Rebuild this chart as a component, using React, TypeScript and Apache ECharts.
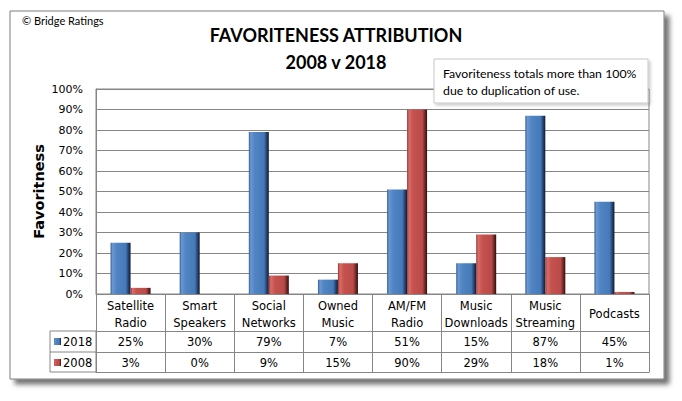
import React, { useEffect, useRef } from 'react';
import * as echarts from 'echarts';

const categories = [
  'Satellite\nRadio',
  'Smart\nSpeakers',
  'Social\nNetworks',
  'Owned\nMusic',
  'AM/FM\nRadio',
  'Music\nDownloads',
  'Music\nStreaming',
  'Podcasts',
];
const values2018 = [25, 30, 79, 7, 51, 15, 87, 45];
const values2008 = [3, 0, 9, 15, 90, 29, 18, 1];
const seriesNames = ['2018', '2008'];
const yMin = 0;
const yMax = 100;
const yInterval = 10;

const TABLE_FONT = 'DejaVu Sans';
const LINE = '#868686';

const blueGrad = () =>
  new echarts.graphic.LinearGradient(0, 0, 1, 0, [
    { offset: 0, color: '#345e94' },
    { offset: 0.1, color: '#6b98d2' },
    { offset: 0.3, color: '#5084c2' },
    { offset: 0.76, color: '#4679b8' },
    { offset: 0.88, color: '#284776' },
    { offset: 1, color: '#0e1b2e' },
  ]);
const redGrad = () =>
  new echarts.graphic.LinearGradient(0, 0, 1, 0, [
    { offset: 0, color: '#963633' },
    { offset: 0.1, color: '#d96c68' },
    { offset: 0.3, color: '#c4524f' },
    { offset: 0.76, color: '#b94b48' },
    { offset: 0.88, color: '#7a2c2a' },
    { offset: 1, color: '#2c0e0d' },
  ]);

export default function App() {
  const ref = useRef<HTMLDivElement>(null);
  useEffect(() => {
    if (!ref.current) return;
    const chart = echarts.init(ref.current, undefined, { renderer: 'svg' });
    const fmt = (v: number) => `${v}%`;
    const option: any = {
      animation: false,
      backgroundColor: '#ffffff',
      grid: {
        left: 96,
        right: 33,
        top: 89,
        bottom: 107,
        show: true,
        borderColor: LINE,
        borderWidth: 1,
        containLabel: false,
      },
      xAxis: [
        {
          type: 'category',
          data: categories,
          position: 'bottom',
          axisLine: { show: true, lineStyle: { color: LINE } },
          axisTick: { show: true, length: 78, interval: 0, alignWithLabel: false, lineStyle: { color: LINE } },
          axisLabel: {
            interval: 0,
            margin: 3,
            fontFamily: TABLE_FONT,
            fontSize: 11.5,
            lineHeight: 17,
            color: '#000',
            formatter: (v: string) => (v.indexOf('\n') < 0 ? `{p|${v}}` : v),
            rich: { p: { fontFamily: TABLE_FONT, fontSize: 11.5, lineHeight: 34, color: '#000' } },
          },
        },
        {
          type: 'category',
          data: values2018.map(fmt),
          position: 'bottom',
          offset: 37,
          axisLine: { show: true, lineStyle: { color: LINE } },
          axisTick: { show: false },
          axisLabel: { interval: 0, margin: 5, fontFamily: TABLE_FONT, fontSize: 11.5, color: '#000' },
        },
        {
          type: 'category',
          data: values2008.map(fmt),
          position: 'bottom',
          offset: 58,
          axisLine: { show: true, lineStyle: { color: LINE } },
          axisTick: { show: false },
          axisLabel: { interval: 0, margin: 5, fontFamily: TABLE_FONT, fontSize: 11.5, color: '#000' },
        },
        {
          type: 'category',
          data: categories,
          position: 'bottom',
          offset: 78,
          axisLine: { show: true, lineStyle: { color: LINE } },
          axisTick: { show: false },
          axisLabel: { show: false },
        },
      ],
      yAxis: {
        type: 'value',
        min: yMin,
        max: yMax,
        interval: yInterval,
        name: 'Favoritness',
        nameLocation: 'middle',
        nameRotate: 90,
        nameGap: 50,
        nameMoveOverlap: false,
        nameTextStyle: { fontFamily: TABLE_FONT, fontWeight: 'bold', fontSize: 14.5, color: '#000' },
        axisLine: { show: true, lineStyle: { color: LINE } },
        axisTick: { show: false },
        axisLabel: { formatter: '{value}%', margin: 13, fontFamily: TABLE_FONT, fontSize: 11, color: '#000' },
        splitLine: { show: true, lineStyle: { color: LINE, width: 1 } },
      },
      series: [
        {
          name: seriesNames[0],
          type: 'bar',
          data: values2018,
          barWidth: 20,
          barGap: '0%',
          itemStyle: { color: blueGrad() },
        },
        {
          name: seriesNames[1],
          type: 'bar',
          data: values2008,
          barWidth: 20,
          barGap: '0%',
          itemStyle: { color: redGrad() },
        },
      ],
      graphic: {
        elements: [
          {
            type: 'rect',
            z: -100,
            shape: { x: 10, y: 11, width: 654, height: 368 },
            style: {
              fill: '#ffffff',
              stroke: '#7f7f7f',
              lineWidth: 1,
              shadowColor: 'rgba(0,0,0,0.55)',
              shadowBlur: 5,
              shadowOffsetX: 5,
              shadowOffsetY: 5,
            },
          },
          {
            type: 'text',
            z: 100,
            x: 22,
            y: 20,
            style: { text: '© Bridge Ratings', fontFamily: 'Lato', fontSize: 11, fill: '#000', verticalAlign: 'middle' },
          },
          {
            type: 'text',
            z: 100,
            x: 336,
            y: 35,
            style: {
              text: 'FAVORITENESS ATTRIBUTION',
              fontFamily: 'Lato',
              fontWeight: 'bold',
              fontSize: 18,
              fill: '#000',
              align: 'center',
              verticalAlign: 'middle',
            },
          },
          {
            type: 'text',
            z: 100,
            x: 336,
            y: 62,
            style: {
              text: '2008 v 2018',
              fontFamily: 'Lato',
              fontWeight: 'bold',
              fontSize: 18,
              fill: '#000',
              align: 'center',
              verticalAlign: 'middle',
            },
          },
          {
            type: 'rect',
            z: 100,
            shape: { x: 434, y: 59, width: 214, height: 44 },
            style: {
              fill: '#ffffff',
              stroke: '#c8c8c8',
              lineWidth: 1,
              shadowColor: 'rgba(0,0,0,0.2)',
              shadowBlur: 3,
              shadowOffsetX: 2,
              shadowOffsetY: 2,
            },
          },
          {
            type: 'text',
            z: 101,
            x: 443,
            y: 73,
            style: { text: 'Favoriteness totals more than 100%', fontFamily: 'Lato', fontSize: 12.3, fill: '#000', verticalAlign: 'middle' },
          },
          {
            type: 'text',
            z: 101,
            x: 443,
            y: 90,
            style: { text: 'due to duplication of use.', fontFamily: 'Lato', fontSize: 12.3, fill: '#000', verticalAlign: 'middle' },
          },
          {
            type: 'rect',
            z: 100,
            shape: { x: 50, y: 331, width: 46, height: 41 },
            style: { fill: 'none', stroke: LINE, lineWidth: 1 },
          },
          {
            type: 'line',
            z: 100,
            shape: { x1: 50, y1: 352, x2: 96, y2: 352 },
            style: { stroke: LINE, lineWidth: 1 },
          },
          {
            type: 'rect',
            z: 100,
            shape: { x: 54, y: 338, width: 7, height: 7 },
            style: { fill: blueGrad() },
          },
          {
            type: 'text',
            z: 100,
            x: 63,
            y: 342,
            style: { text: seriesNames[0], fontFamily: TABLE_FONT, fontSize: 11.5, fill: '#000', verticalAlign: 'middle' },
          },
          {
            type: 'rect',
            z: 100,
            shape: { x: 54, y: 359, width: 7, height: 7 },
            style: { fill: redGrad() },
          },
          {
            type: 'text',
            z: 100,
            x: 63,
            y: 363,
            style: { text: seriesNames[1], fontFamily: TABLE_FONT, fontSize: 11.5, fill: '#000', verticalAlign: 'middle' },
          },
        ],
      },
    };
    chart.setOption(option);
    return () => chart.dispose();
  }, []);
  return <div ref={ref} style={{ position: 'fixed', left: 0, top: 0, width: 682, height: 401, background: '#fff' }} />;
}
